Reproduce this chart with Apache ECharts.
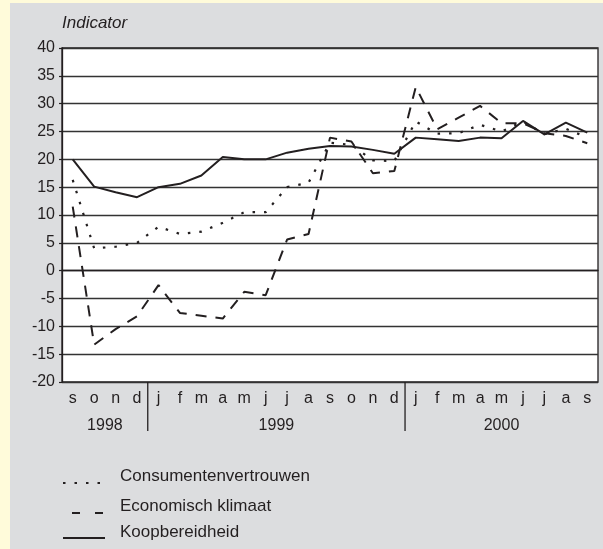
<!DOCTYPE html>
<html>
<head>
<meta charset="utf-8">
<script src="https://cdn.jsdelivr.net/npm/echarts@6/dist/echarts.min.js"></script>
<style>
  html, body { margin: 0; padding: 0; background: #fffbda; }
  #chart { position: absolute; left: 10px; top: 3px; width: 593px; height: 546px; }
</style>
</head>
<body>
<div id="chart"></div>
<script>
// maanden sep 1998 - sep 2000
var months = ['s','o','n','d','j','f','m','a','m','j','j','a','s','o','n','d','j','f','m','a','m','j','j','a','s'];
var yearLabels = ['1998', '1999', '2000'];
var yearFirst = [0, 4, 16];
var yearLast = [3, 15, 24];

var seriesNames = ['Consumentenvertrouwen', 'Economisch klimaat', 'Koopbereidheid'];
var consumenten = [16.3, 4.0, 4.3, 5.0, 7.9, 6.6, 7.0, 8.6, 10.5, 10.5, 15.0, 15.8, 23.0, 22.6, 19.8, 19.7, 26.8, 24.6, 24.7, 26.2, 25.0, 26.8, 24.5, 25.5, 23.9];
var economisch = [11.5, -13.3, -10.5, -8.2, -2.6, -7.6, -8.1, -8.6, -3.8, -4.4, 5.6, 6.6, 23.9, 23.2, 17.5, 17.9, 33.0, 25.4, 27.5, 29.6, 26.5, 26.5, 24.7, 24.2, 22.9];
var koop = [20.0, 15.1, 14.1, 13.2, 15.0, 15.6, 17.1, 20.4, 20.0, 20.0, 21.2, 21.9, 22.4, 22.3, 21.7, 21.0, 23.9, 23.6, 23.3, 23.9, 23.8, 26.9, 24.5, 26.6, 24.8];

var ink = '#231f20';
var font = 'Liberation Sans, Arial, sans-serif';
var dotted = [2.5, 9];
var dashed = [11, 9];

var myChart = echarts.init(document.getElementById('chart'));

var option = {
    backgroundColor: '#dcdddf',
    animation: false,
    title: {
        text: 'Indicator',
        left: 52,
        top: 12,
        padding: 0,
        textStyle: { fontFamily: font, fontSize: 17, fontStyle: 'italic', fontWeight: 'normal', color: ink }
    },
    grid: {
        left: 52,
        right: 5,
        top: 45,
        bottom: 167,
        show: true,
        backgroundColor: '#ffffff',
        borderColor: ink,
        borderWidth: 1.3
    },
    xAxis: {
        type: 'category',
        data: months,
        boundaryGap: true,
        axisLine: { lineStyle: { color: ink, width: 1.3 } },
        axisTick: { inside: true, length: 5, alignWithLabel: true, lineStyle: { color: ink, width: 1.2 } },
        axisLabel: { interval: 0, margin: 9, fontFamily: font, fontSize: 16, color: ink }
    },
    yAxis: {
        type: 'value',
        min: -20,
        max: 40,
        interval: 5,
        axisLine: { show: true, lineStyle: { color: ink, width: 1.3 } },
        axisTick: { show: true, length: 3, lineStyle: { color: ink, width: 1.2 } },
        axisLabel: { margin: 7, fontFamily: font, fontSize: 16, color: ink },
        splitLine: { lineStyle: { color: '#333333', width: 1.3 } }
    },
    series: [
        {
            name: seriesNames[0],
            type: 'line',
            data: consumenten,
            symbol: 'none',
            lineStyle: { color: ink, width: 2.2, type: dotted }
        },
        {
            name: seriesNames[1],
            type: 'line',
            data: economisch,
            symbol: 'none',
            lineStyle: { color: ink, width: 2, type: dashed }
        },
        {
            name: seriesNames[2],
            type: 'line',
            data: koop,
            symbol: 'none',
            lineStyle: { color: ink, width: 2, type: 'solid' }
        }
    ]
};

myChart.setOption(option);

// jaarlabels en scheidingsstreepjes onder de as
var px0 = myChart.convertToPixel({ xAxisIndex: 0 }, 0);
var px1 = myChart.convertToPixel({ xAxisIndex: 0 }, 1);
var bw = px1 - px0;
var yBase = myChart.convertToPixel({ yAxisIndex: 0 }, -20);
var graphics = [];
for (var i = 0; i < yearLabels.length; i++) {
    var xs = myChart.convertToPixel({ xAxisIndex: 0 }, yearFirst[i]) - bw / 2;
    var xe = myChart.convertToPixel({ xAxisIndex: 0 }, yearLast[i]) + bw / 2;
    graphics.push({
        type: 'text',
        x: (xs + xe) / 2,
        y: yBase + 44,
        style: { text: yearLabels[i], font: '16px ' + font, fill: ink, align: 'center', verticalAlign: 'middle' }
    });
    if (i > 0) {
        graphics.push({
            type: 'line',
            shape: { x1: xs, y1: yBase, x2: xs, y2: yBase + 49 },
            style: { stroke: ink, lineWidth: 1.3 }
        });
    }
}

// legenda (lijnstukje iets onder de tekst, zoals in het origineel)
var legendKeys = [
    { x1: 53, x2: 95, dash: dotted, w: 2.2 },
    { x1: 62, x2: 93, dash: [8, 15], w: 2 },
    { x1: 53, x2: 95, dash: null, w: 2 }
];
var legendRows = [473, 503, 529];
var legendKeyDrop = [7, 7, 6];
for (var k = 0; k < seriesNames.length; k++) {
    var ly = legendRows[k] + legendKeyDrop[k];
    graphics.push({
        type: 'line',
        shape: { x1: legendKeys[k].x1, y1: ly, x2: legendKeys[k].x2, y2: ly },
        style: { stroke: ink, lineWidth: legendKeys[k].w, lineDash: legendKeys[k].dash }
    });
    graphics.push({
        type: 'text',
        x: 110,
        y: legendRows[k],
        style: { text: seriesNames[k], font: '17px ' + font, fill: ink, align: 'left', verticalAlign: 'middle' }
    });
}
myChart.setOption({ graphic: graphics });
</script>
</body>
</html>
